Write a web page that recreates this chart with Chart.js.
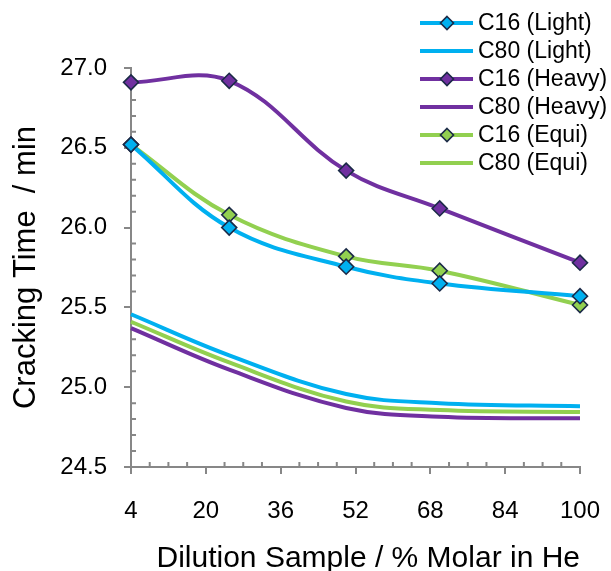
<!DOCTYPE html>
<html>
<head>
<meta charset="utf-8">
<script src="https://cdn.jsdelivr.net/npm/chart.js@4.4.1/dist/chart.umd.min.js"></script>
<style>
  html, body { margin: 0; padding: 0; background: #fff; }
</style>
</head>
<body>
<canvas id="crackingChart" width="611" height="571"></canvas>
<script>
// x values (% molar in He) and tick labels
const dilution = [4, 25, 50, 70, 100];
const xTicks = [4, 20, 36, 52, 68, 84, 100];
const yTicks = [24.5, 25.0, 25.5, 26.0, 26.5, 27.0];

// cracking time / min
const c16Light = [26.52, 26.00, 25.755, 25.65, 25.57];
const c80Light = [25.457, 25.20, 24.957, 24.90, 24.88];
const c16Heavy = [26.91, 26.92, 26.357, 26.12, 25.78];
const c80Heavy = [25.37, 25.11, 24.87, 24.815, 24.805];
const c16Equi = [26.52, 26.08, 25.82, 25.73, 25.515];
const c80Equi = [25.41, 25.155, 24.91, 24.857, 24.845];

const labels = ['C16 (Light)', 'C80 (Light)', 'C16 (Heavy)', 'C80 (Heavy)', 'C16 (Equi)', 'C80 (Equi)'];

const blue = '#00b0f0';
const purple = '#7030a0';
const green = '#92d050';
const markerEdge = '#1b2a47';
const axisColor = '#878787';
const fontFamily = '"Liberation Sans", Arial, sans-serif';

const toPoints = vals => vals.map((v, i) => ({ x: dilution[i], y: v }));

function series(label, vals, color, markers) {
    return {
        label: label,
        data: toPoints(vals),
        borderColor: color,
        backgroundColor: color,
        borderWidth: 4,
        tension: 0.38,
        pointStyle: 'rectRot',
        pointRadius: markers ? 7.5 : 0,
        pointHoverRadius: markers ? 7.5 : 0,
        pointBorderColor: markerEdge,
        pointBorderWidth: 1.6,
        pointBackgroundColor: color,
        clip: false,
        showMarker: markers
    };
}

// small inside ticks between the major ones
const minorTicks = {
    id: 'minorTicks',
    beforeDatasetsDraw(chart) {
        const { ctx, chartArea } = chart;
        const x = chart.scales.x, y = chart.scales.y;
        ctx.save();
        ctx.strokeStyle = axisColor;
        ctx.lineWidth = 2;
        ctx.beginPath();
        for (let v = 8; v < 100; v += 4) {
            if ((v - 4) % 16 === 0) continue;
            const px = x.getPixelForValue(v);
            ctx.moveTo(px, chartArea.bottom);
            ctx.lineTo(px, chartArea.bottom - 5);
        }
        for (let i = 1; i < 25; i++) {
            if (i % 5 === 0) continue;
            const py = y.getPixelForValue(24.5 + i * 0.1);
            ctx.moveTo(chartArea.left, py);
            ctx.lineTo(chartArea.left + 5, py);
        }
        ctx.stroke();
        ctx.restore();
    }
};

// legend drawn over the top right corner
const cornerLegend = {
    id: 'cornerLegend',
    afterDraw(chart) {
        const ctx = chart.ctx;
        ctx.save();
        ctx.font = '23px ' + fontFamily;
        ctx.textBaseline = 'middle';
        ctx.fillStyle = '#000';
        chart.data.datasets.forEach((ds, i) => {
            const yy = 23 + i * 28;
            ctx.strokeStyle = ds.borderColor;
            ctx.lineWidth = 4;
            ctx.beginPath();
            ctx.moveTo(420, yy);
            ctx.lineTo(473, yy);
            ctx.stroke();
            if (ds.showMarker) {
                ctx.beginPath();
                ctx.moveTo(447, yy - 6.5);
                ctx.lineTo(453.5, yy);
                ctx.lineTo(447, yy + 6.5);
                ctx.lineTo(440.5, yy);
                ctx.closePath();
                ctx.fillStyle = ds.borderColor;
                ctx.fill();
                ctx.strokeStyle = markerEdge;
                ctx.lineWidth = 1.6;
                ctx.stroke();
                ctx.fillStyle = '#000';
            }
            ctx.fillText(ds.label, 478, yy + 1);
        });
        ctx.restore();
    }
};

const ctx = document.getElementById('crackingChart').getContext('2d');

const crackingChart = new Chart(ctx, {
    type: 'line',
    data: {
        datasets: [
            series(labels[0], c16Light, blue, true),
            series(labels[1], c80Light, blue, false),
            series(labels[2], c16Heavy, purple, true),
            series(labels[3], c80Heavy, purple, false),
            series(labels[4], c16Equi, green, true),
            series(labels[5], c80Equi, green, false)
        ]
    },
    options: {
        responsive: false,
        animation: false,
        devicePixelRatio: 1,
        layout: { padding: { top: 68, right: 31, left: 0, bottom: 0 } },
        plugins: {
            legend: { display: false },
            tooltip: { enabled: false }
        },
        scales: {
            x: {
                type: 'linear',
                min: 4,
                max: 100,
                afterBuildTicks: scale => { scale.ticks = xTicks.map(v => ({ value: v })); },
                afterFit: scale => {
                    scale.height = 104;
                    scale.paddingLeft = 0;
                    scale.paddingRight = 0;
                },
                grid: { drawOnChartArea: false, tickLength: 7, color: axisColor, lineWidth: 2 },
                border: { color: axisColor, width: 2 },
                ticks: {
                    color: '#000',
                    padding: 23,
                    maxRotation: 0,
                    font: { family: fontFamily, size: 24 }
                },
                title: {
                    display: true,
                    text: 'Dilution Sample / % Molar in He',
                    align: 'end',
                    color: '#000',
                    padding: 0,
                    font: { family: fontFamily, size: 30, lineHeight: 0.8 }
                }
            },
            y: {
                min: 24.5,
                max: 27.0,
                afterBuildTicks: scale => { scale.ticks = yTicks.map(v => ({ value: v })); },
                afterFit: scale => { scale.width = 131; },
                grid: { drawOnChartArea: false, tickLength: 7, color: axisColor, lineWidth: 2 },
                border: { color: axisColor, width: 2 },
                ticks: {
                    color: '#000',
                    padding: 17,
                    callback: v => v.toFixed(1),
                    font: { family: fontFamily, size: 24 }
                },
                title: {
                    display: true,
                    text: 'Cracking Time  / min',
                    color: '#000',
                    padding: { top: 8, bottom: 0 },
                    font: { family: fontFamily, size: 31 }
                }
            }
        }
    },
    plugins: [minorTicks, cornerLegend]
});
</script>
</body>
</html>
